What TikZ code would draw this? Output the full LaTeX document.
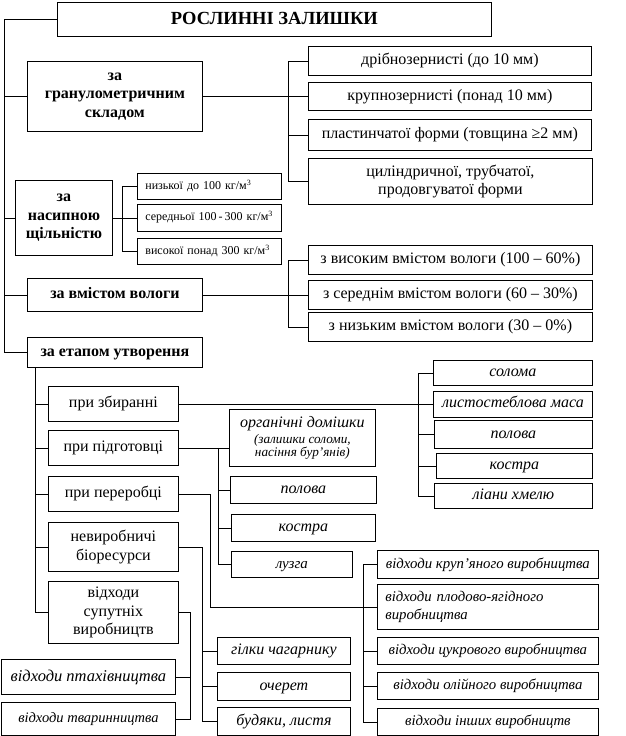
\documentclass[tikz,border=0pt]{standalone}
\usepackage{fontspec}
\setmainfont{Liberation Serif}
\begin{document}
\begin{tikzpicture}[x=1pt,y=-1pt]
\tikzset{
 bx/.style={draw, line width=0.8pt, inner sep=1pt, align=center, anchor=north west},
 rg/.style={font=\fontsize{16}{18.5}\selectfont},
 bd/.style={font=\fontsize{16}{18.5}\selectfont\bfseries},
 it/.style={font=\fontsize{16}{18.5}\selectfont\itshape},
 iw/.style={font=\fontsize{14.8}{17.5}\selectfont\itshape},
 sm/.style={font=\fontsize{12}{14}\selectfont, align=left, text width=128pt, inner xsep=8pt, text height=8.6pt, text depth=2.6pt},
 sl/.style={text height=11.5pt, text depth=3.5pt},
 slw/.style={text height=10.7pt, text depth=3.3pt},
 ln/.style={line width=0.8pt}
}
\useasboundingbox (0,0) rectangle (626,736);
% title
\node[bx,font=\fontsize{18.5}{21}\selectfont\bfseries,text height=13.4pt,text depth=4pt,minimum width=434pt,minimum height=34pt] (title) at (57,2) {РОСЛИННІ ЗАЛИШКИ};
% categories
\node[bx,bd,minimum width=175pt,minimum height=70pt] (gran) at (27,61) {за\\гранулометричним\\складом};
\node[bx,bd,minimum width=97pt,minimum height=75pt] (dens) at (15,180) {за\\насипною\\щільністю};
\node[bx,bd,sl,minimum width=175pt,minimum height=33pt] (vol) at (27,278) {за вмістом вологи};
\node[bx,bd,sl,minimum width=175pt,minimum height=30pt] (etap) at (27,337) {за етапом утворення};
% granulometric
\node[bx,rg,sl,minimum width=283pt,minimum height=29pt] (g1) at (308,46) {дрібнозернисті (до 10 мм)};
\node[bx,rg,sl,minimum width=283pt,minimum height=28pt] (g2) at (308,82) {крупнозернисті (понад 10 мм)};
\node[bx,rg,sl,minimum width=283pt,minimum height=31pt] (g3) at (308,119) {пластинчатої форми (товщина ≥2 мм)};
\node[bx,rg,minimum width=284pt,minimum height=46pt] (g4) at (308,158) {циліндричної, трубчатої,\\продовгуватої форми};
% density
\node[bx,sm,minimum width=144pt,minimum height=26pt] (d1) at (137,173) {\mbox{низької до 100 кг/м\textsuperscript{3}}};
\node[bx,sm,minimum width=144pt,minimum height=27pt] (d2) at (137,204) {\mbox{середньої 100\,-\,300 кг/м\textsuperscript{3}}};
\node[bx,sm,minimum width=144pt,minimum height=26pt] (d3) at (137,238) {\mbox{високої понад 300 кг/м\textsuperscript{3}}};
% moisture
\node[bx,rg,sl,minimum width=284pt,minimum height=29pt] (m1) at (308,245) {з високим вмістом вологи (100 – 60\%)};
\node[bx,rg,sl,minimum width=284pt,minimum height=29pt] (m2) at (308,280) {з середнім вмістом вологи (60 – 30\%)};
\node[bx,rg,sl,minimum width=284pt,minimum height=29pt] (m3) at (308,312) {з низьким вмістом вологи (30 – 0\%)};
% stages
\node[bx,rg,sl,minimum width=130pt,minimum height=35pt] (zb) at (48,386) {при збиранні};
\node[bx,rg,sl,minimum width=130pt,minimum height=35pt] (pd) at (48,430) {при підготовці};
\node[bx,rg,sl,minimum width=130pt,minimum height=35pt] (pr) at (48,476) {при переробці};
\node[bx,rg,minimum width=130pt,minimum height=49pt] (nv) at (48,522) {невиробничі\\біоресурси};
\node[bx,rg,minimum width=130pt,minimum height=62pt] (sp) at (48,581) {відходи\\супутніх\\виробництв};
% harvesting
\node[bx,it,sl,minimum width=159pt,minimum height=25pt] (r1) at (433,360) {солома};
\node[bx,it,sl,minimum width=159pt,minimum height=26pt] (r2) at (433,390.5) {листостеблова маса};
\node[bx,it,sl,minimum width=158pt,minimum height=28pt] (r3) at (434,420) {полова};
\node[bx,it,sl,minimum width=156pt,minimum height=25pt] (r4) at (436,453) {костра};
\node[bx,it,sl,minimum width=158pt,minimum height=25pt] (r5) at (434,483) {ліани хмелю};
% preparation
\node[bx,font=\itshape,minimum width=146pt,minimum height=57pt] (o1) at (229,409) {\fontsize{16}{18}\selectfont органічні домішки\\[2pt]\fontsize{13.2}{14.5}\selectfont (залишки соломи,\\\fontsize{13.2}{14.5}\selectfont насіння бур’янів)};
\node[bx,it,sl,minimum width=146pt,minimum height=27pt] (o2) at (230,476) {полова};
\node[bx,it,sl,minimum width=144pt,minimum height=27pt] (o3) at (231,514) {костра};
\node[bx,font=\fontsize{15}{17}\selectfont\itshape,text height=10.8pt,text depth=3.3pt,minimum width=121pt,minimum height=26pt] (o4) at (231,551) {лузга};
% processing
\node[bx,iw,slw,minimum width=221pt,minimum height=28pt] (w1) at (377,550) {відходи круп’яного виробництва};
\node[bx,iw,minimum width=221pt,minimum height=45pt,text width=205pt,align=left,inner xsep=8pt] (w2) at (377,584) {відходи плодово-ягідного\\виробництва};
\node[bx,iw,slw,minimum width=221pt,minimum height=27pt] (w3) at (377,637) {відходи цукрового виробництва};
\node[bx,iw,slw,minimum width=221pt,minimum height=27pt] (w4) at (377,672) {відходи олійного виробництва};
\node[bx,iw,slw,minimum width=221pt,minimum height=27pt] (w5) at (377,708) {відходи інших виробництв};
% non-production
\node[bx,it,sl,minimum width=133pt,minimum height=27pt] (n1) at (217,637) {гілки чагарнику};
\node[bx,it,sl,minimum width=133pt,minimum height=28pt] (n2) at (217,672) {очерет};
\node[bx,it,sl,minimum width=133pt,minimum height=28pt] (n3) at (217,707) {будяки, листя};
% side productions
\node[bx,font=\fontsize{16.5}{18}\selectfont\itshape,text height=11.8pt,text depth=3.6pt,minimum width=174pt,minimum height=35pt] (s1) at (1,659) {відходи птахівництва};
\node[bx,font=\fontsize{14.5}{16}\selectfont\itshape,text height=10.5pt,text depth=3.2pt,minimum width=174pt,minimum height=33pt] (s2) at (1,702) {відходи тваринництва};
% bus coordinates
\coordinate (bA) at (4,0);
\coordinate (bG) at (288,0);
\coordinate (bD) at (122,0);
\coordinate (bE) at (35,0);
\coordinate (bZ) at (418,0);
\coordinate (bP) at (218,0);
\coordinate (bR) at (210,0);
\coordinate (bW) at (363,0);
\coordinate (bN) at (202,0);
\coordinate (bS) at (190,0);
% connectors
\draw[ln] (title.west) -- (title.west -| bA) -- (etap.west -| bA) -- (etap.west);
\foreach \n in {gran,dens,vol} \draw[ln] (\n.west -| bA) -- (\n.west);
\draw[ln] (gran.east) -- (g2.west);
\draw[ln] (g1.west) -- (g1.west -| bG) -- (g4.west -| bG) -- (g4.west);
\draw[ln] (g3.west -| bG) -- (g3.west);
\draw[ln] (dens.east) -- (d2.west);
\draw[ln] (d1.west) -- (d1.west -| bD) -- (d3.west -| bD) -- (d3.west);
\draw[ln] (vol.east) -- (m2.west);
\draw[ln] (m1.west) -- (m1.west -| bG) -- (m3.west -| bG) -- (m3.west);
\draw[ln] (etap.south -| bE) -- (sp.west -| bE) -- (sp.west);
\foreach \n in {zb,pd,pr,nv} \draw[ln] (\n.west -| bE) -- (\n.west);
\draw[ln] (zb.east) -- (r2.west);
\draw[ln] (r1.west) -- (r1.west -| bZ) -- (r5.west -| bZ) -- (r5.west);
\foreach \n in {r3,r4} \draw[ln] (\n.west -| bZ) -- (\n.west);
\draw[ln] (pd.east) -- (pd.east -| o1.west);
\draw[ln] (pd.east -| bP) -- (o4.west -| bP) -- (o4.west);
\foreach \n in {o2,o3} \draw[ln] (\n.west -| bP) -- (\n.west);
\draw[ln] (pr.east) -- (pr.east -| bR) -- (w2.west -| bR) -- (w2.west);
\draw[ln] (w1.west) -- (w1.west -| bW) -- (w5.west -| bW) -- (w5.west);
\foreach \n in {w3,w4} \draw[ln] (\n.west -| bW) -- (\n.west);
\draw[ln] (nv.east) -- (nv.east -| bN) -- (n3.west -| bN) -- (n3.west);
\foreach \n in {n1,n2} \draw[ln] (\n.west -| bN) -- (\n.west);
\draw[ln] (sp.east) -- (sp.east -| bS) -- (s2.east -| bS) -- (s2.east);
\draw[ln] (s1.east) -- (s1.east -| bS);
\end{tikzpicture}
\end{document}
